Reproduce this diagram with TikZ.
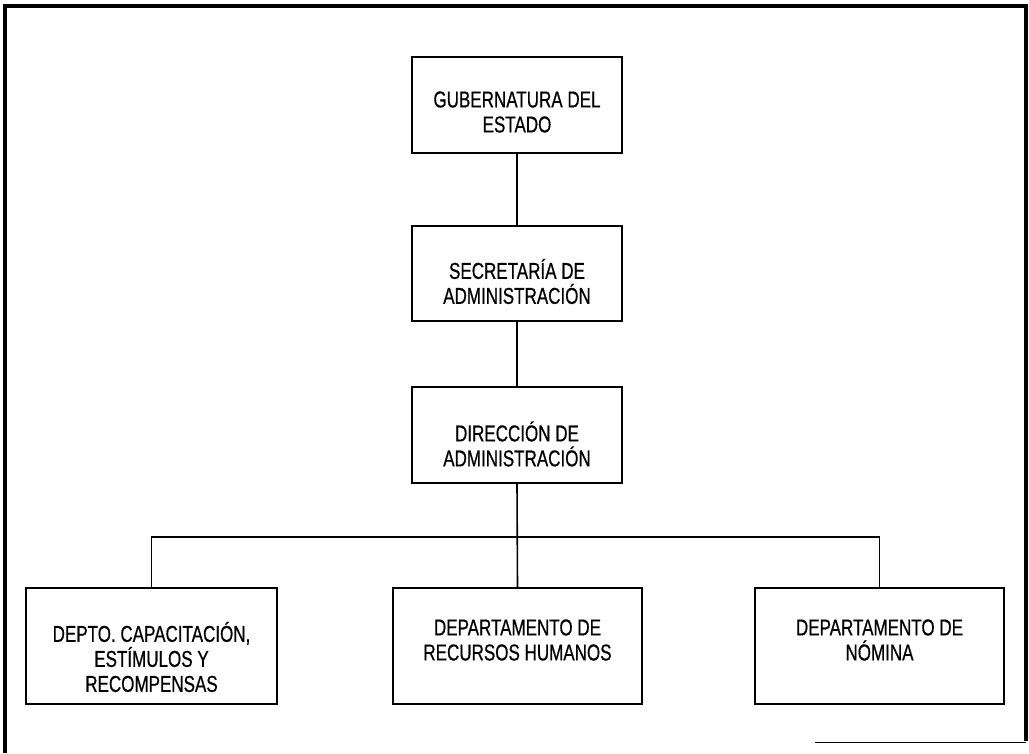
\documentclass[tikz,border=0pt]{standalone}
\usepackage{fontspec}
\setmainfont[FakeStretch=0.74,FakeBold=0.6]{Liberation Sans}
\begin{document}
\begin{tikzpicture}[x=1pt,y=-1pt,
  orgbox/.style={draw,line width=1.6pt,inner sep=0pt},
  boxtext/.style={align=center,inner sep=0pt,font=\fontsize{23}{25}\selectfont},
  link/.style={line width=1.6pt},
  frame/.style={line width=4pt}]
\useasboundingbox (0,0) rectangle (1029,753);
\node[orgbox,minimum width=210pt,minimum height=96pt,
  label={[boxtext,yshift=-7pt]center:GUBERNATURA DEL\\ESTADO}] (gub) at (517,105) {};
\node[orgbox,minimum width=210pt,minimum height=95pt,
  label={[boxtext,yshift=-8pt]center:SECRETARÍA DE\\ADMINISTRACIÓN}] (sec) at (517,273.5) {};
\node[orgbox,minimum width=210pt,minimum height=96pt,
  label={[boxtext,yshift=-9pt]center:DIRECCIÓN DE\\ADMINISTRACIÓN}] (dir) at (517,435) {};
\node[orgbox,minimum width=251pt,minimum height=116pt,
  label={[boxtext,yshift=-11pt]center:DEPTO. CAPACITACIÓN,\\ESTÍMULOS Y\\RECOMPENSAS}] (cap) at (151.5,646) {};
\node[orgbox,minimum width=249pt,minimum height=116pt,
  label={[boxtext,yshift=6pt]center:DEPARTAMENTO DE\\RECURSOS HUMANOS}] (rh) at (517.5,646) {};
\node[orgbox,minimum width=249pt,minimum height=116pt,
  label={[boxtext,yshift=6pt]center:DEPARTAMENTO DE\\NÓMINA}] (nom) at (879.5,646) {};
\coordinate (j) at (517,537);
\draw[link] (gub.south) -- (sec.north);
\draw[link] (sec.south) -- (dir.north);
\draw[link] (dir.south) -- (rh.north);
\draw[link] (cap.north) -- (cap.north |- j) -- (nom.north |- j) -- (nom.north);
\coordinate (f1) at (5,753);
\coordinate (f2) at (5,6);
\coordinate (f3) at (1026,6);
\coordinate (f4) at (1026,741);
\coordinate (f5) at (815,742.5);
\draw[frame] (f1) -- (f2) -- (f3) -- (f4);
\draw[line width=1.2pt] (f5) -- (f4 |- f5);
\end{tikzpicture}
\end{document}
